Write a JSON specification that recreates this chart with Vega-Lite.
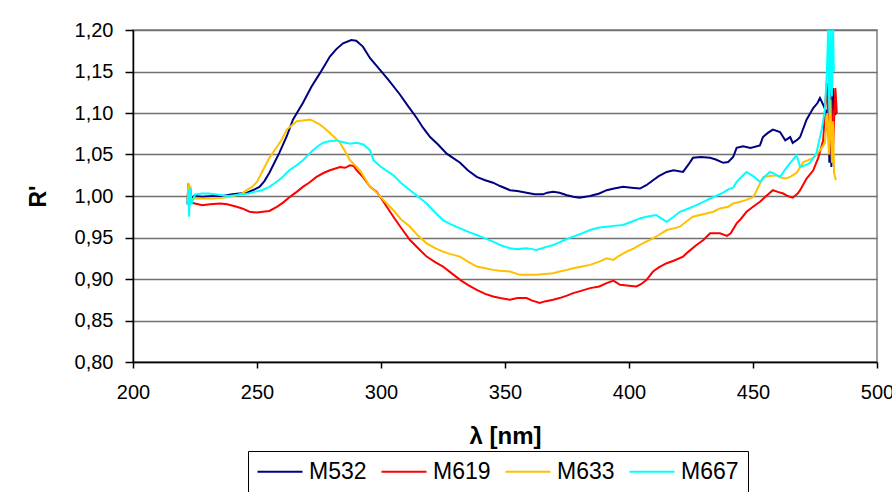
{
  "$schema": "https://vega.github.io/schema/vega-lite/v6.json",
  "width": 744,
  "height": 332,
  "autosize": {"type": "none"},
  "padding": {"left": 133, "top": 30, "right": 15, "bottom": 130},
  "background": "white",
  "config": {
    "font": "Liberation Sans",
    "view": {"stroke": "#808080", "strokeWidth": 1.5},
    "axis": {"labelFont": "Liberation Sans", "titleFont": "Liberation Sans", "labelColor": "black", "titleColor": "black"}
  },
  "data": {"values": [
    {"s":"M532","x":222.0,"y":0.99},{"s":"M532","x":222.3,"y":1.015},{"s":"M532","x":222.6,"y":0.985},{"s":"M532","x":223.0,"y":1.012},{"s":"M532","x":223.5,"y":0.995},{"s":"M532","x":224.5,"y":1.0},{"s":"M532","x":228,"y":0.999},{"s":"M532","x":232,"y":1.0},{"s":"M532","x":236,"y":1.0},{"s":"M532","x":240,"y":1.002},{"s":"M532","x":243,"y":1.003},{"s":"M532","x":246,"y":1.004},{"s":"M532","x":249,"y":1.008},{"s":"M532","x":251,"y":1.011},{"s":"M532","x":253,"y":1.018},{"s":"M532","x":255,"y":1.028},{"s":"M532","x":257,"y":1.04},{"s":"M532","x":259,"y":1.052},{"s":"M532","x":262,"y":1.072},{"s":"M532","x":264.5,"y":1.092},{"s":"M532","x":266.5,"y":1.102},{"s":"M532","x":268.5,"y":1.112},{"s":"M532","x":272,"y":1.132},{"s":"M532","x":275.4,"y":1.148},{"s":"M532","x":279.4,"y":1.168},{"s":"M532","x":282,"y":1.177},{"s":"M532","x":284.7,"y":1.184},{"s":"M532","x":288,"y":1.188},{"s":"M532","x":290,"y":1.187},{"s":"M532","x":292.7,"y":1.18},{"s":"M532","x":295.6,"y":1.166},{"s":"M532","x":299.6,"y":1.152},{"s":"M532","x":303,"y":1.14},{"s":"M532","x":307.7,"y":1.122},{"s":"M532","x":311,"y":1.108},{"s":"M532","x":314.4,"y":1.094},{"s":"M532","x":317,"y":1.082},{"s":"M532","x":319.8,"y":1.071},{"s":"M532","x":323,"y":1.062},{"s":"M532","x":326.5,"y":1.051},{"s":"M532","x":329,"y":1.046},{"s":"M532","x":331.9,"y":1.04},{"s":"M532","x":335,"y":1.031},{"s":"M532","x":338.6,"y":1.023},{"s":"M532","x":342,"y":1.019},{"s":"M532","x":345.2,"y":1.016},{"s":"M532","x":348,"y":1.012},{"s":"M532","x":352,"y":1.007},{"s":"M532","x":355,"y":1.006},{"s":"M532","x":358.7,"y":1.004},{"s":"M532","x":362,"y":1.002},{"s":"M532","x":365.3,"y":1.002},{"s":"M532","x":367,"y":1.004},{"s":"M532","x":369.4,"y":1.005},{"s":"M532","x":372,"y":1.004},{"s":"M532","x":375,"y":1.001},{"s":"M532","x":377.5,"y":0.999},{"s":"M532","x":380,"y":0.998},{"s":"M532","x":384.3,"y":1.0},{"s":"M532","x":388,"y":1.003},{"s":"M532","x":391,"y":1.007},{"s":"M532","x":394,"y":1.009},{"s":"M532","x":397.6,"y":1.011},{"s":"M532","x":401,"y":1.01},{"s":"M532","x":404.4,"y":1.009},{"s":"M532","x":407,"y":1.013},{"s":"M532","x":409.7,"y":1.019},{"s":"M532","x":412,"y":1.024},{"s":"M532","x":415.2,"y":1.029},{"s":"M532","x":418,"y":1.031},{"s":"M532","x":421.8,"y":1.029},{"s":"M532","x":424,"y":1.038},{"s":"M532","x":425.8,"y":1.046},{"s":"M532","x":429,"y":1.047},{"s":"M532","x":432.7,"y":1.046},{"s":"M532","x":435,"y":1.044},{"s":"M532","x":438,"y":1.04},{"s":"M532","x":440,"y":1.041},{"s":"M532","x":442,"y":1.047},{"s":"M532","x":443.4,"y":1.058},{"s":"M532","x":446,"y":1.06},{"s":"M532","x":449,"y":1.058},{"s":"M532","x":452.8,"y":1.061},{"s":"M532","x":454,"y":1.071},{"s":"M532","x":456,"y":1.076},{"s":"M532","x":458,"y":1.08},{"s":"M532","x":460.9,"y":1.077},{"s":"M532","x":463,"y":1.067},{"s":"M532","x":465,"y":1.071},{"s":"M532","x":466,"y":1.064},{"s":"M532","x":468,"y":1.068},{"s":"M532","x":469,"y":1.071},{"s":"M532","x":471.6,"y":1.092},{"s":"M532","x":474.3,"y":1.106},{"s":"M532","x":476,"y":1.112},{"s":"M532","x":477,"y":1.118},{"s":"M532","x":478.3,"y":1.11},{"s":"M532","x":479.7,"y":1.1},{"s":"M532","x":480.3,"y":1.105},{"s":"M532","x":480.8,"y":1.04},{"s":"M532","x":481.2,"y":1.142},{"s":"M532","x":481.6,"y":1.035},{"s":"M532","x":482.2,"y":1.13},{"s":"M532","x":483,"y":1.1},{"s":"M532","x":483.5,"y":1.098},
    {"s":"M619","x":222.0,"y":0.995},{"s":"M619","x":222.3,"y":1.012},{"s":"M619","x":222.6,"y":0.99},{"s":"M619","x":223.0,"y":1.005},{"s":"M619","x":223.5,"y":0.992},{"s":"M619","x":225,"y":0.991},{"s":"M619","x":228,"y":0.989},{"s":"M619","x":231,"y":0.99},{"s":"M619","x":235,"y":0.991},{"s":"M619","x":238,"y":0.99},{"s":"M619","x":241.8,"y":0.987},{"s":"M619","x":244,"y":0.985},{"s":"M619","x":247,"y":0.981},{"s":"M619","x":250,"y":0.98},{"s":"M619","x":252.4,"y":0.981},{"s":"M619","x":255,"y":0.982},{"s":"M619","x":258,"y":0.987},{"s":"M619","x":260.5,"y":0.992},{"s":"M619","x":263.3,"y":0.999},{"s":"M619","x":266,"y":1.005},{"s":"M619","x":268.5,"y":1.011},{"s":"M619","x":271,"y":1.016},{"s":"M619","x":274,"y":1.023},{"s":"M619","x":277,"y":1.028},{"s":"M619","x":279.4,"y":1.031},{"s":"M619","x":283.5,"y":1.035},{"s":"M619","x":285.5,"y":1.034},{"s":"M619","x":287.5,"y":1.037},{"s":"M619","x":289,"y":1.036},{"s":"M619","x":290.2,"y":1.031},{"s":"M619","x":292.7,"y":1.023},{"s":"M619","x":295.6,"y":1.011},{"s":"M619","x":298.3,"y":1.005},{"s":"M619","x":301,"y":0.993},{"s":"M619","x":305,"y":0.975},{"s":"M619","x":308,"y":0.962},{"s":"M619","x":311.7,"y":0.947},{"s":"M619","x":315,"y":0.937},{"s":"M619","x":318.4,"y":0.927},{"s":"M619","x":322,"y":0.92},{"s":"M619","x":325,"y":0.915},{"s":"M619","x":328,"y":0.908},{"s":"M619","x":331.9,"y":0.899},{"s":"M619","x":335,"y":0.893},{"s":"M619","x":338.6,"y":0.887},{"s":"M619","x":342,"y":0.882},{"s":"M619","x":345.2,"y":0.879},{"s":"M619","x":348,"y":0.877},{"s":"M619","x":352,"y":0.875},{"s":"M619","x":355,"y":0.877},{"s":"M619","x":358.7,"y":0.877},{"s":"M619","x":361,"y":0.874},{"s":"M619","x":364,"y":0.871},{"s":"M619","x":366,"y":0.873},{"s":"M619","x":369.4,"y":0.875},{"s":"M619","x":372,"y":0.877},{"s":"M619","x":375,"y":0.88},{"s":"M619","x":377.5,"y":0.883},{"s":"M619","x":381,"y":0.886},{"s":"M619","x":384.3,"y":0.889},{"s":"M619","x":388,"y":0.891},{"s":"M619","x":391,"y":0.895},{"s":"M619","x":393.7,"y":0.898},{"s":"M619","x":396.4,"y":0.893},{"s":"M619","x":400,"y":0.892},{"s":"M619","x":403,"y":0.891},{"s":"M619","x":405,"y":0.894},{"s":"M619","x":407.1,"y":0.899},{"s":"M619","x":409.7,"y":0.909},{"s":"M619","x":412,"y":0.914},{"s":"M619","x":415.2,"y":0.919},{"s":"M619","x":418,"y":0.922},{"s":"M619","x":421.8,"y":0.927},{"s":"M619","x":424,"y":0.933},{"s":"M619","x":427.2,"y":0.941},{"s":"M619","x":430,"y":0.947},{"s":"M619","x":432.7,"y":0.955},{"s":"M619","x":434,"y":0.955},{"s":"M619","x":436.7,"y":0.955},{"s":"M619","x":439.5,"y":0.952},{"s":"M619","x":441,"y":0.955},{"s":"M619","x":443.4,"y":0.967},{"s":"M619","x":445,"y":0.972},{"s":"M619","x":447.4,"y":0.981},{"s":"M619","x":450,"y":0.987},{"s":"M619","x":452.8,"y":0.993},{"s":"M619","x":455,"y":0.999},{"s":"M619","x":458,"y":1.007},{"s":"M619","x":460,"y":1.005},{"s":"M619","x":462.2,"y":1.003},{"s":"M619","x":464,"y":1.0},{"s":"M619","x":466,"y":0.998},{"s":"M619","x":468,"y":1.003},{"s":"M619","x":469,"y":1.007},{"s":"M619","x":471.6,"y":1.021},{"s":"M619","x":474.3,"y":1.031},{"s":"M619","x":476.3,"y":1.046},{"s":"M619","x":478.3,"y":1.067},{"s":"M619","x":479.7,"y":1.136},{"s":"M619","x":480.3,"y":1.1},{"s":"M619","x":480.8,"y":1.05},{"s":"M619","x":481.5,"y":1.12},{"s":"M619","x":482.3,"y":1.06},{"s":"M619","x":483.2,"y":1.13},{"s":"M619","x":483.8,"y":1.1},
    {"s":"M633","x":222.0,"y":0.995},{"s":"M633","x":222.3,"y":1.016},{"s":"M633","x":222.6,"y":0.992},{"s":"M633","x":223.0,"y":1.012},{"s":"M633","x":223.5,"y":0.996},{"s":"M633","x":225,"y":0.997},{"s":"M633","x":228,"y":0.997},{"s":"M633","x":232,"y":0.997},{"s":"M633","x":236,"y":0.998},{"s":"M633","x":239,"y":0.999},{"s":"M633","x":241.8,"y":1.001},{"s":"M633","x":244,"y":1.003},{"s":"M633","x":245.8,"y":1.007},{"s":"M633","x":248,"y":1.011},{"s":"M633","x":250,"y":1.017},{"s":"M633","x":252.4,"y":1.031},{"s":"M633","x":255,"y":1.046},{"s":"M633","x":258,"y":1.059},{"s":"M633","x":260,"y":1.068},{"s":"M633","x":262,"y":1.08},{"s":"M633","x":264,"y":1.085},{"s":"M633","x":266,"y":1.09},{"s":"M633","x":268.5,"y":1.091},{"s":"M633","x":271.4,"y":1.092},{"s":"M633","x":273,"y":1.09},{"s":"M633","x":275.4,"y":1.086},{"s":"M633","x":277.5,"y":1.081},{"s":"M633","x":279.4,"y":1.076},{"s":"M633","x":281.5,"y":1.07},{"s":"M633","x":283.5,"y":1.064},{"s":"M633","x":285.5,"y":1.054},{"s":"M633","x":287.5,"y":1.043},{"s":"M633","x":289.5,"y":1.037},{"s":"M633","x":291.5,"y":1.031},{"s":"M633","x":295.6,"y":1.011},{"s":"M633","x":298.3,"y":1.004},{"s":"M633","x":301,"y":0.995},{"s":"M633","x":305,"y":0.983},{"s":"M633","x":308,"y":0.972},{"s":"M633","x":311.7,"y":0.963},{"s":"M633","x":315,"y":0.952},{"s":"M633","x":318.4,"y":0.943},{"s":"M633","x":322,"y":0.937},{"s":"M633","x":325,"y":0.933},{"s":"M633","x":328,"y":0.93},{"s":"M633","x":331.9,"y":0.927},{"s":"M633","x":335,"y":0.921},{"s":"M633","x":338.6,"y":0.915},{"s":"M633","x":342,"y":0.913},{"s":"M633","x":345.2,"y":0.911},{"s":"M633","x":348,"y":0.91},{"s":"M633","x":352,"y":0.909},{"s":"M633","x":356,"y":0.905},{"s":"M633","x":359,"y":0.905},{"s":"M633","x":362.6,"y":0.905},{"s":"M633","x":366,"y":0.906},{"s":"M633","x":369.4,"y":0.907},{"s":"M633","x":372,"y":0.909},{"s":"M633","x":375,"y":0.911},{"s":"M633","x":377.5,"y":0.913},{"s":"M633","x":381,"y":0.915},{"s":"M633","x":384.3,"y":0.917},{"s":"M633","x":388,"y":0.921},{"s":"M633","x":391,"y":0.925},{"s":"M633","x":393.7,"y":0.923},{"s":"M633","x":396,"y":0.928},{"s":"M633","x":399,"y":0.933},{"s":"M633","x":402,"y":0.937},{"s":"M633","x":404.4,"y":0.941},{"s":"M633","x":407,"y":0.945},{"s":"M633","x":409.7,"y":0.949},{"s":"M633","x":412,"y":0.953},{"s":"M633","x":415.2,"y":0.959},{"s":"M633","x":418,"y":0.961},{"s":"M633","x":420.5,"y":0.963},{"s":"M633","x":423,"y":0.969},{"s":"M633","x":425.8,"y":0.975},{"s":"M633","x":428.6,"y":0.977},{"s":"M633","x":431.2,"y":0.979},{"s":"M633","x":434,"y":0.981},{"s":"M633","x":436.7,"y":0.985},{"s":"M633","x":440,"y":0.987},{"s":"M633","x":442,"y":0.991},{"s":"M633","x":444.8,"y":0.993},{"s":"M633","x":447,"y":0.995},{"s":"M633","x":450.2,"y":0.999},{"s":"M633","x":452,"y":1.01},{"s":"M633","x":454.2,"y":1.023},{"s":"M633","x":457,"y":1.024},{"s":"M633","x":459.5,"y":1.025},{"s":"M633","x":461.5,"y":1.022},{"s":"M633","x":463.5,"y":1.021},{"s":"M633","x":465.5,"y":1.024},{"s":"M633","x":467.6,"y":1.028},{"s":"M633","x":470.3,"y":1.041},{"s":"M633","x":472,"y":1.043},{"s":"M633","x":474.3,"y":1.046},{"s":"M633","x":477,"y":1.055},{"s":"M633","x":479,"y":1.064},{"s":"M633","x":480,"y":1.1},{"s":"M633","x":480.6,"y":1.05},{"s":"M633","x":481.2,"y":1.116},{"s":"M633","x":481.8,"y":1.04},{"s":"M633","x":482.3,"y":1.09},{"s":"M633","x":482.7,"y":1.028},{"s":"M633","x":483.4,"y":1.019},
    {"s":"M667","x":222.0,"y":0.99},{"s":"M667","x":222.3,"y":1.008},{"s":"M667","x":222.6,"y":0.975},{"s":"M667","x":223.0,"y":1.01},{"s":"M667","x":223.5,"y":0.99},{"s":"M667","x":225,"y":1.002},{"s":"M667","x":228,"y":1.003},{"s":"M667","x":230.4,"y":1.003},{"s":"M667","x":233,"y":1.002},{"s":"M667","x":235.8,"y":1.001},{"s":"M667","x":238.5,"y":1.0},{"s":"M667","x":241.2,"y":1.001},{"s":"M667","x":244,"y":1.002},{"s":"M667","x":246.6,"y":1.003},{"s":"M667","x":249,"y":1.005},{"s":"M667","x":252,"y":1.007},{"s":"M667","x":255,"y":1.011},{"s":"M667","x":257.4,"y":1.016},{"s":"M667","x":260,"y":1.022},{"s":"M667","x":263,"y":1.031},{"s":"M667","x":266,"y":1.037},{"s":"M667","x":268.5,"y":1.043},{"s":"M667","x":270.5,"y":1.049},{"s":"M667","x":272.6,"y":1.055},{"s":"M667","x":274.5,"y":1.06},{"s":"M667","x":276.6,"y":1.064},{"s":"M667","x":279,"y":1.066},{"s":"M667","x":282,"y":1.067},{"s":"M667","x":284.5,"y":1.065},{"s":"M667","x":287.5,"y":1.063},{"s":"M667","x":290,"y":1.064},{"s":"M667","x":292.9,"y":1.062},{"s":"M667","x":295.6,"y":1.055},{"s":"M667","x":297,"y":1.043},{"s":"M667","x":300,"y":1.035},{"s":"M667","x":302.5,"y":1.03},{"s":"M667","x":305,"y":1.025},{"s":"M667","x":308,"y":1.016},{"s":"M667","x":311.7,"y":1.007},{"s":"M667","x":315,"y":0.999},{"s":"M667","x":318.4,"y":0.991},{"s":"M667","x":321.5,"y":0.981},{"s":"M667","x":325,"y":0.971},{"s":"M667","x":328,"y":0.966},{"s":"M667","x":331.9,"y":0.961},{"s":"M667","x":335,"y":0.957},{"s":"M667","x":338.6,"y":0.953},{"s":"M667","x":342,"y":0.949},{"s":"M667","x":345.2,"y":0.945},{"s":"M667","x":348,"y":0.941},{"s":"M667","x":352,"y":0.937},{"s":"M667","x":355,"y":0.936},{"s":"M667","x":358.7,"y":0.937},{"s":"M667","x":361,"y":0.936},{"s":"M667","x":362.6,"y":0.935},{"s":"M667","x":365,"y":0.937},{"s":"M667","x":367,"y":0.939},{"s":"M667","x":369.4,"y":0.941},{"s":"M667","x":371,"y":0.943},{"s":"M667","x":374,"y":0.947},{"s":"M667","x":377.5,"y":0.951},{"s":"M667","x":381,"y":0.955},{"s":"M667","x":384.3,"y":0.959},{"s":"M667","x":388,"y":0.962},{"s":"M667","x":391,"y":0.963},{"s":"M667","x":394,"y":0.964},{"s":"M667","x":397.6,"y":0.965},{"s":"M667","x":401,"y":0.969},{"s":"M667","x":404.4,"y":0.973},{"s":"M667","x":407,"y":0.975},{"s":"M667","x":411,"y":0.977},{"s":"M667","x":413,"y":0.973},{"s":"M667","x":415.2,"y":0.969},{"s":"M667","x":418,"y":0.975},{"s":"M667","x":420.5,"y":0.981},{"s":"M667","x":424,"y":0.985},{"s":"M667","x":427.2,"y":0.989},{"s":"M667","x":430,"y":0.993},{"s":"M667","x":432.7,"y":0.997},{"s":"M667","x":435,"y":1.0},{"s":"M667","x":438,"y":1.004},{"s":"M667","x":440,"y":1.008},{"s":"M667","x":442,"y":1.01},{"s":"M667","x":443.4,"y":1.017},{"s":"M667","x":445,"y":1.022},{"s":"M667","x":447.4,"y":1.029},{"s":"M667","x":450,"y":1.024},{"s":"M667","x":452.8,"y":1.017},{"s":"M667","x":455,"y":1.024},{"s":"M667","x":456.8,"y":1.029},{"s":"M667","x":458.5,"y":1.027},{"s":"M667","x":460.9,"y":1.023},{"s":"M667","x":463,"y":1.032},{"s":"M667","x":465,"y":1.04},{"s":"M667","x":467.6,"y":1.049},{"s":"M667","x":469,"y":1.035},{"s":"M667","x":471,"y":1.037},{"s":"M667","x":473,"y":1.04},{"s":"M667","x":475.6,"y":1.052},{"s":"M667","x":477.7,"y":1.08},{"s":"M667","x":479,"y":1.104},{"s":"M667","x":479.8,"y":1.15},{"s":"M667","x":480.3,"y":1.2},{"s":"M667","x":480.8,"y":1.1},{"s":"M667","x":481.3,"y":1.2},{"s":"M667","x":481.8,"y":1.12},{"s":"M667","x":482.3,"y":1.2},{"s":"M667","x":482.6,"y":1.15}
  ]},
  "mark": {"type": "line", "strokeWidth": 2, "clip": true, "interpolate": "linear"},
  "encoding": {
    "x": {
      "field": "x", "type": "quantitative",
      "scale": {"domain": [200, 500], "nice": false, "zero": false},
      "axis": {
        "title": "λ [nm]", "titleFontSize": 24, "titleFontWeight": "bold",
        "titleBaseline": "alphabetic", "titleY": 81, "titleX": 372,
        "values": [200, 250, 300, 350, 400, 450, 500],
        "labelFontSize": 20, "labelPadding": 14, "labelFlush": false,
        "tickSize": 6, "tickColor": "black", "tickWidth": 1.5,
        "domainColor": "black", "domainWidth": 1.5, "grid": false
      }
    },
    "y": {
      "field": "y", "type": "quantitative",
      "scale": {"domain": [0.8, 1.2], "nice": false, "zero": false},
      "axis": {
        "title": "R'", "titleFontSize": 23, "titleFontWeight": "bold",
        "titleAngle": -90, "titleBaseline": "middle", "titleAlign": "center",
        "titleX": -95, "titleY": 166,
        "values": [0.8, 0.85, 0.9, 0.95, 1.0, 1.05, 1.1, 1.15, 1.2],
        "labelExpr": "replace(format(datum.value, '.2f'), '.', ',')",
        "labelFontSize": 20, "labelPadding": 12, "labelFlush": false,
        "tickSize": 8, "tickColor": "black", "tickWidth": 1.5,
        "domainColor": "black", "domainWidth": 1.5,
        "grid": true, "gridColor": "#707070", "gridWidth": 1.5
      }
    },
    "color": {
      "field": "s", "type": "nominal",
      "scale": {"domain": ["M532", "M619", "M633", "M667"], "range": ["#000080", "#FF0000", "#FFC000", "#00FFFF"]},
      "legend": {
        "title": null, "orient": "none", "direction": "horizontal",
        "legendX": 115, "legendY": 421,
        "symbolType": "M-6,0H0", "symbolSize": 225, "symbolStrokeWidth": 2,
        "symbolOffset": 34, "symbolFillColor": "transparent",
        "labelFontSize": 23, "labelFont": "Liberation Sans", "labelColor": "black",
        "labelOffset": -5, "columnPadding": 10,
        "strokeColor": "black", "padding": 9, "fillColor": "white"
      }
    }
  }
}
